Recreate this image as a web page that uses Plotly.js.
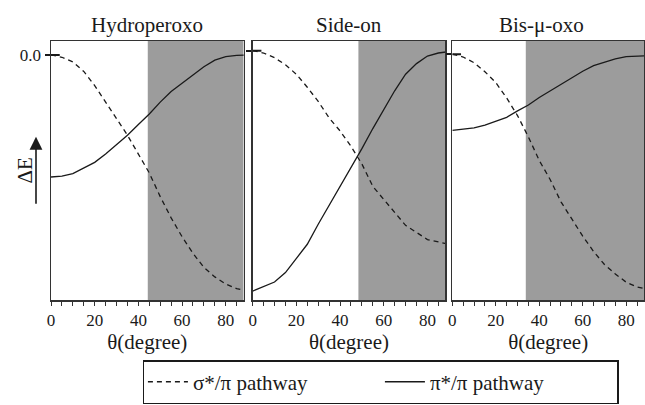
<!DOCTYPE html>
<html>
<head>
<meta charset="utf-8">
<script src="https://cdn.plot.ly/plotly-3.0.1.min.js"></script>
<style>
html,body{margin:0;padding:0;background:#fff;}
#chart{width:645px;height:405px;}
</style>
</head>
<body>
<div id="chart"></div>
<script>
// Angle grid (degrees)
var theta = [0,5,10,15,20,25,30,35,40,45,50,55,60,65,70,75,80,85,90];

// Panel titles
var panels = ["Hydroperoxo", "Side-on", "Bis-\u03bc-oxo"];

// sigma*/pi pathway (dashed), relative energy
var sigmaHydro = [0,-0.01,-0.03,-0.07,-0.13,-0.2,-0.27,-0.34,-0.42,-0.5,-0.6,-0.69,-0.77,-0.84,-0.9,-0.94,-0.97,-0.99,-1.0];
var sigmaSide  = [0,-0.01,-0.03,-0.06,-0.1,-0.155,-0.215,-0.285,-0.34,-0.405,-0.48,-0.575,-0.63,-0.685,-0.74,-0.77,-0.8,-0.81,-0.82];
var sigmaBis   = [0,-0.012,-0.036,-0.074,-0.12,-0.185,-0.26,-0.35,-0.45,-0.53,-0.625,-0.7,-0.77,-0.835,-0.89,-0.93,-0.965,-0.985,-0.995];

// pi*/pi pathway (solid)
var piHydro = [-0.517,-0.513,-0.503,-0.48,-0.455,-0.42,-0.38,-0.34,-0.295,-0.25,-0.2,-0.155,-0.12,-0.083,-0.05,-0.022,-0.007,-0.002,0];
var piSide  = [-1.018,-1.0,-0.98,-0.94,-0.88,-0.82,-0.735,-0.655,-0.58,-0.5,-0.415,-0.33,-0.25,-0.17,-0.1,-0.055,-0.023,-0.01,-0.004];
var piBis   = [-0.322,-0.318,-0.312,-0.3,-0.285,-0.267,-0.24,-0.215,-0.183,-0.155,-0.128,-0.1,-0.072,-0.048,-0.033,-0.02,-0.01,-0.007,-0.006];

// Start of shaded region (degrees)
var shadeStart = [44.3, 48.4, 33.8];

// Tick positions and labels
var xTickVals = [0,5,10,15,20,25,30,35,40,45,50,55,60,65,70,75,80,85];
var xTickText = ["0","","","","20","","","","40","","","","60","","","","80",""];
var yTickVals = [0];
var yTickText = ["0.0"];

var sigmaSeries = [sigmaHydro, sigmaSide, sigmaBis];
var piSeries = [piHydro, piSide, piBis];

var FAM = "Liberation Serif";
var xDomains = [[0, 0.3249], [0.3401, 0.665], [0.6768, 1.0]];
var yRanges = [[-1.0378, 0.0588], [-1.056, 0.0408], [-1.0403, 0.0559]];
var xMax = 88.2;

var data = [];
var shapes = [];
var annotations = [];
var layout = {
  width: 645, height: 405,
  margin: {l: 51, r: 1, t: 41, b: 103},
  paper_bgcolor: "#ffffff", plot_bgcolor: "#ffffff",
  font: {family: FAM, size: 17, color: "#1a1a1a"},
  showlegend: true,
  legend: {
    orientation: "h", x: 0.155, y: -0.232, xanchor: "left", yanchor: "top",
    bordercolor: "#1a1a1a", borderwidth: 1.5, bgcolor: "#ffffff",
    font: {family: FAM, size: 21},
    entrywidth: 182, itemwidth: 40
  }
};

for (var i = 0; i < 3; i++) {
  var sfx = i === 0 ? "" : String(i + 1);
  data.push({
    x: theta, y: sigmaSeries[i], xaxis: "x" + sfx, yaxis: "y" + sfx,
    type: "scatter", mode: "lines", name: "\u03c3*/\u03c0 pathway",
    line: {color: "#1a1a1a", width: 1.3, dash: "5px,4px"},
    showlegend: i === 0, legendgroup: "sigma"
  });
  data.push({
    x: theta, y: piSeries[i], xaxis: "x" + sfx, yaxis: "y" + sfx,
    type: "scatter", mode: "lines", name: "\u03c0*/\u03c0 pathway",
    line: {color: "#1a1a1a", width: 1.3},
    showlegend: i === 0, legendgroup: "pi"
  });
  layout["xaxis" + sfx] = {
    domain: xDomains[i], anchor: "y" + sfx, range: [0, xMax],
    showline: true, mirror: true, linecolor: "#333333", linewidth: 1.5,
    showgrid: false, zeroline: false,
    tickmode: "array", tickvals: xTickVals, ticktext: xTickText,
    ticks: "outside", ticklen: 4, tickwidth: 1, tickcolor: "#333333",
    tickfont: {family: FAM, size: 17},
    title: {text: "\u03b8(degree)", font: {family: FAM, size: 21}, standoff: 0}
  };
  layout["yaxis" + sfx] = {
    domain: [0, 1], anchor: "x" + sfx, range: yRanges[i],
    showline: true, mirror: true, linecolor: "#333333", linewidth: 1.5,
    showgrid: false, zeroline: false,
    tickmode: "array", tickvals: yTickVals, ticktext: yTickText,
    showticklabels: i === 0,
    ticks: "outside", ticklen: 5, tickwidth: 2, tickcolor: "#1a1a1a",
    tickfont: {family: FAM, size: 17}
  };
  shapes.push({
    type: "rect", xref: "x" + sfx, yref: "paper",
    x0: shadeStart[i], x1: xMax, y0: 0, y1: 1,
    fillcolor: "#9c9c9c", line: {width: 0}, layer: "below"
  });
  shapes.push({
    type: "line", xref: "x" + sfx, yref: "y" + sfx,
    x0: 0, x1: 4, y0: yTickVals[0], y1: yTickVals[0],
    line: {color: "#1a1a1a", width: 2}
  });
  annotations.push({
    text: panels[i], xref: "paper", yref: "paper",
    x: (xDomains[i][0] + xDomains[i][1]) / 2 - (i === 2 ? 0.012 : 0), y: 1.062,
    xanchor: "center", yanchor: "middle", showarrow: false,
    font: {family: FAM, size: 21}
  });
}

// Delta E label with upward arrow
annotations.push({
  text: "\u0394E", xref: "paper", yref: "paper", x: -0.044, y: 0.50,
  xanchor: "center", yanchor: "middle", textangle: -90, showarrow: false,
  font: {family: FAM, size: 21}
});
annotations.push({
  text: " ", xref: "paper", yref: "paper", x: -0.0253, y: 0.63,
  showarrow: true, ax: 0, ay: 78, arrowhead: 2, arrowsize: 1.6, arrowwidth: 1.6,
  arrowcolor: "#1a1a1a", standoff: 0
});

layout.shapes = shapes;
layout.annotations = annotations;

Plotly.newPlot("chart", data, layout, {displayModeBar: false, staticPlot: true});
</script>
</body>
</html>
